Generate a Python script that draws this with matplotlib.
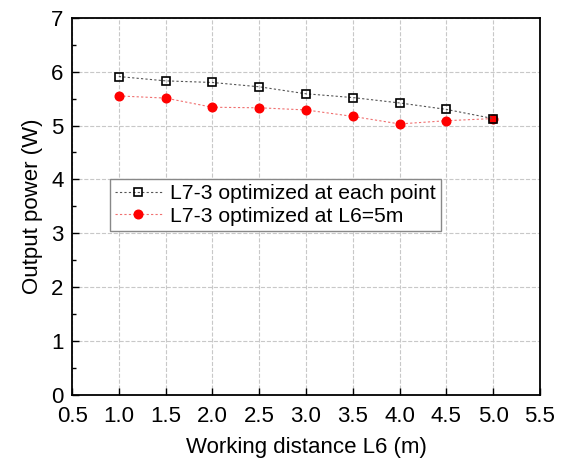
import matplotlib
matplotlib.use("Agg")
import matplotlib.pyplot as plt
from matplotlib.ticker import MultipleLocator

plt.rcParams['font.family'] = ['Liberation Sans', 'DejaVu Sans']

# data
distance = [1.0, 1.5, 2.0, 2.5, 3.0, 3.5, 4.0, 4.5, 5.0]
power_each_point = [5.91, 5.83, 5.80, 5.72, 5.59, 5.52, 5.42, 5.30, 5.13]
power_fixed_5m = [5.55, 5.51, 5.34, 5.33, 5.29, 5.17, 5.03, 5.09, 5.13]
x_ticks = [0.5, 1.0, 1.5, 2.0, 2.5, 3.0, 3.5, 4.0, 4.5, 5.0, 5.5]
y_ticks = [0, 1, 2, 3, 4, 5, 6, 7]

fig = plt.figure(figsize=(5.63, 4.58), dpi=100)
ax = fig.add_axes([0.128, 0.138, 0.831, 0.823])

ax.plot(distance, power_fixed_5m, linestyle=(0, (2, 2)), color='#f07070', linewidth=0.8,
        marker='o', markersize=6.2, markerfacecolor='red', markeredgecolor='red',
        label='L7-3 optimized at L6=5m', zorder=3)
ax.plot(distance, power_each_point, linestyle=(0, (2, 2)), color='#555555', linewidth=0.8,
        marker='s', markersize=5.2, markerfacecolor='none', markeredgecolor='black',
        markeredgewidth=1.2, label='L7-3 optimized at each point', zorder=4)

ax.set_xlim(0.5, 5.5)
ax.set_ylim(0, 7)
ax.set_xticks(x_ticks)
ax.set_xticklabels([f'{t:.1f}' for t in x_ticks])
ax.set_yticks(y_ticks)
ax.yaxis.set_minor_locator(MultipleLocator(0.5))
ax.tick_params(direction='in', which='both', labelsize=16, width=1)
ax.tick_params(which='major', length=5)
ax.tick_params(which='minor', length=3)
ax.tick_params(axis='x', pad=8)
ax.tick_params(axis='y', pad=6)
ax.grid(True, which='major', linestyle='--', color='#c8c8c8', linewidth=0.8)
for s in ax.spines.values():
    s.set_linewidth(1.3)

ax.set_xlabel('Working distance L6 (m)', fontsize=16, labelpad=7)
ax.set_ylabel('Output power (W)', fontsize=16, labelpad=6)

handles, labels = ax.get_legend_handles_labels()
ax.legend(handles[::-1], labels[::-1], loc='upper left', bbox_to_anchor=(0.081, 0.572),
          fontsize=15.2, frameon=True, fancybox=False, edgecolor='#888888',
          framealpha=1, handlelength=2.2, borderpad=0.25, labelspacing=0.15,
          handletextpad=0.4, borderaxespad=0)

fig.savefig('out.png', dpi=100)
